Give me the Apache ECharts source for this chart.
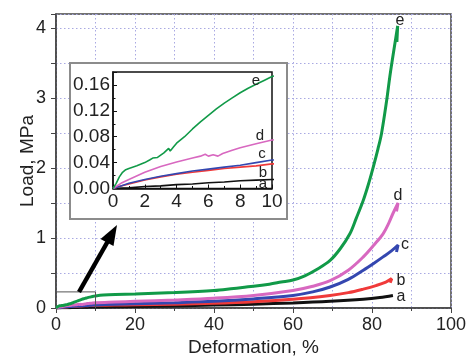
<!DOCTYPE html>
<html>
<head>
<meta charset="utf-8">
<script src="https://cdn.jsdelivr.net/npm/echarts@6/dist/echarts.min.js"></script>
<style>html,body{margin:0;padding:0;background:#fff;}#c{width:467px;height:359px;}</style>
</head>
<body>
<div id="c"></div>
<script>
// ---- data: [deformation %, load MPa] ----
var curveE = [[0,0],[0.2,0.008],[0.4,0.018],[0.6,0.025],[0.8,0.029],[1,0.031],[1.5,0.035],[2,0.04],[2.3,0.044],[2.5,0.047],[2.6,0.044],[2.8,0.048],[3.2,0.055],[3.5,0.062],[3.6,0.058],[3.8,0.064],[4,0.07],[4.5,0.08],[5,0.092],[5.5,0.103],[6,0.113],[6.5,0.123],[7,0.132],[7.5,0.14],[8,0.148],[8.5,0.155],[9,0.161],[9.5,0.167],[10,0.173],[12,0.185],[15,0.193],[20,0.2],[30,0.22],[40,0.25],[45,0.28],[50,0.31],[54,0.34],[57,0.37],[60,0.4],[63,0.46],[66,0.55],[69.4,0.68],[72,0.85],[74.4,1.06],[76,1.28],[77.8,1.54],[79,1.75],[80.3,2.01],[81.5,2.27],[82.4,2.49],[83.7,2.96],[84.5,3.3],[85.3,3.6],[86,3.85],[86.5,4.03],[86.3,3.8]];
var curveD = [[0,0],[0.5,0.008],[1,0.014],[2,0.025],[3,0.034],[4,0.041],[5,0.047],[5.5,0.05],[5.8,0.053],[6,0.05],[6.3,0.052],[6.6,0.05],[6.9,0.054],[7.5,0.059],[8,0.063],[9,0.069],[10,0.075],[15,0.085],[20,0.095],[30,0.115],[40,0.14],[50,0.18],[60,0.25],[65,0.31],[69.4,0.39],[74,0.54],[77.8,0.73],[80.5,0.9],[82.8,1.06],[84.3,1.22],[85.3,1.35],[86.6,1.5],[86.2,1.38]];
var curveC = [[0,0],[0.5,0.004],[1,0.008],[2,0.014],[3,0.019],[4,0.023],[5,0.027],[6,0.03],[7,0.033],[8,0.036],[9,0.04],[10,0.044],[15,0.052],[20,0.06],[30,0.075],[40,0.095],[50,0.13],[60,0.18],[65,0.23],[69.4,0.3],[74,0.41],[77.8,0.54],[80.5,0.64],[82.8,0.73],[85,0.82],[86.6,0.9],[86.2,0.8]];
var curveB = [[0,0],[0.5,0.004],[1,0.007],[2,0.013],[3,0.018],[4,0.022],[5,0.025],[6,0.028],[7,0.031],[8,0.033],[9,0.035],[10,0.038],[15,0.042],[20,0.046],[30,0.055],[40,0.068],[50,0.09],[60,0.125],[69.4,0.18],[74,0.22],[77.8,0.27],[81,0.32],[83.5,0.37],[85,0.42],[84.6,0.36]];
var curveA = [[0,0],[1,0.001],[2,0.003],[3,0.004],[4,0.006],[5,0.007],[6,0.009],[7,0.01],[8,0.012],[9,0.013],[10,0.014],[20,0.022],[30,0.03],[40,0.042],[50,0.055],[60,0.072],[69.4,0.095],[77.8,0.125],[82,0.15],[85.3,0.18]];
var zoomBox = [[0,0.23],[10,0.23],[10,0]];
var curveNames = ['a','b','c','d','e'];
var curveColors = ['#111111','#f03a3a','#3447b0','#d868c0','#119a48'];
var xLabel = 'Deformation, %';
var yLabel = 'Load, MPa';

var curves = [curveA, curveB, curveC, curveD, curveE];
var FONT = 'Liberation Sans, Arial, sans-serif';
var gridColor = '#a9a9e2';
var dotted = [1.5, 2.5];

var series = [];
curves.forEach(function (d, i) {
  series.push({type:'line', name:curveNames[i], xAxisIndex:0, yAxisIndex:0, data:d,
    showSymbol:false, smooth:0.35, lineStyle:{color:curveColors[i], width:3}, z:2, animation:false});
  series.push({type:'line', name:curveNames[i]+'_inset', xAxisIndex:1, yAxisIndex:1, data:d,
    showSymbol:false, clip:true, lineStyle:{color:curveColors[i], width:1.6}, z:6, animation:false});
});
series.push({type:'line', xAxisIndex:0, yAxisIndex:0, data:zoomBox, showSymbol:false,
  lineStyle:{color:'#555', width:1}, z:3, animation:false});

var chart = echarts.init(document.getElementById('c'));
chart.setOption({
  animation:false,
  backgroundColor:'#fff',
  grid:[
    {left:56, top:14, width:395, height:294, show:true, borderColor:'#444', borderWidth:1.5, z:0,
     containLabel:false, outerBoundsMode:'none'},
    {left:113, top:72, width:159, height:116.5, show:true, borderColor:'#111', borderWidth:1.5, backgroundColor:'#fff', z:4,
     containLabel:false, outerBoundsMode:'none'}
  ],
  xAxis:[
    {gridIndex:0, type:'value', min:0, max:100, interval:20,
     name:xLabel, nameLocation:'middle', nameGap:30, nameMoveOverlap:false,
     nameTextStyle:{fontFamily:FONT, fontSize:19, color:'#222'},
     axisLine:{show:true, lineStyle:{color:'#444', width:1.5}},
     axisTick:{show:true, length:5, lineStyle:{color:'#444'}},
     minorTick:{show:true, splitNumber:2, length:3, lineStyle:{color:'#444'}},
     axisLabel:{fontFamily:FONT, fontSize:18, color:'#222', margin:8},
     splitLine:{show:true, lineStyle:{color:gridColor, type:dotted, width:1}},
     minorSplitLine:{show:true, lineStyle:{color:gridColor, type:dotted, width:1}}},
    {gridIndex:1, type:'value', min:0, max:10, interval:2, z:5,
     axisLine:{show:true, lineStyle:{color:'#111', width:1.5}},
     axisTick:{show:true, inside:true, length:4, lineStyle:{color:'#111'}},
     minorTick:{show:true, splitNumber:2, length:2.5, lineStyle:{color:'#111'}},
     axisLabel:{fontFamily:FONT, fontSize:19, color:'#222', margin:4},
     splitLine:{show:false}}
  ],
  yAxis:[
    {gridIndex:0, type:'value', min:0, max:4.2, interval:0.5,
     name:yLabel, nameLocation:'middle', nameGap:19, nameMoveOverlap:false,
     nameTextStyle:{fontFamily:FONT, fontSize:19, color:'#222'},
     axisLine:{show:true, lineStyle:{color:'#444', width:1.5}},
     axisTick:{show:true, length:5, lineStyle:{color:'#444'}},
     axisLabel:{fontFamily:FONT, fontSize:18, color:'#222', margin:10,
       formatter:function(v){ return (Math.abs(v - Math.round(v)) < 1e-9) ? String(Math.round(v)) : ''; }},
     splitLine:{show:true, lineStyle:{color:gridColor, type:dotted, width:1}}},
    {gridIndex:1, type:'value', min:0, max:0.18, interval:0.04, z:5,
     axisLine:{show:true, lineStyle:{color:'#111', width:1.5}},
     axisTick:{show:true, inside:true, length:4, lineStyle:{color:'#111'}},
     minorTick:{show:true, splitNumber:2, length:2.5, lineStyle:{color:'#111'}},
     axisLabel:{fontFamily:FONT, fontSize:19, color:'#222', margin:3, showMaxLabel:false,
       formatter:function(v){ return v.toFixed(2); }},
     splitLine:{show:false}}
  ],
  graphic:[
    {type:'rect', z:3, shape:{x:70, y:63, width:217, height:156},
     style:{fill:'#fff', stroke:'#8c8c8c', lineWidth:2}},
    {type:'line', z:10, shape:{x1:79, y1:292, x2:108, y2:241}, style:{stroke:'#000', lineWidth:4.5}},
    {type:'polygon', z:10, shape:{points:[[117,225],[100.5,239],[113.5,246]]}, style:{fill:'#000'}},
    {type:'text', z:10, style:{text:'e', x:400, y:21, fontSize:16, fontFamily:FONT, fill:'#222', align:'center', verticalAlign:'middle'}},
    {type:'text', z:10, style:{text:'d', x:398, y:196, fontSize:16, fontFamily:FONT, fill:'#222', align:'center', verticalAlign:'middle'}},
    {type:'text', z:10, style:{text:'c', x:405, y:245, fontSize:16, fontFamily:FONT, fill:'#222', align:'center', verticalAlign:'middle'}},
    {type:'text', z:10, style:{text:'b', x:401, y:281, fontSize:16, fontFamily:FONT, fill:'#222', align:'center', verticalAlign:'middle'}},
    {type:'text', z:10, style:{text:'a', x:401, y:297, fontSize:16, fontFamily:FONT, fill:'#222', align:'center', verticalAlign:'middle'}},
    {type:'text', z:10, style:{text:'e', x:256, y:81, fontSize:15, fontFamily:FONT, fill:'#222', align:'center', verticalAlign:'middle'}},
    {type:'text', z:10, style:{text:'d', x:260, y:136, fontSize:15, fontFamily:FONT, fill:'#222', align:'center', verticalAlign:'middle'}},
    {type:'text', z:10, style:{text:'c', x:262, y:154, fontSize:15, fontFamily:FONT, fill:'#222', align:'center', verticalAlign:'middle'}},
    {type:'text', z:10, style:{text:'b', x:263, y:173, fontSize:15, fontFamily:FONT, fill:'#222', align:'center', verticalAlign:'middle'}},
    {type:'text', z:10, style:{text:'a', x:263, y:184, fontSize:15, fontFamily:FONT, fill:'#222', align:'center', verticalAlign:'middle'}}
  ],
  series:series
});
</script>
</body>
</html>
